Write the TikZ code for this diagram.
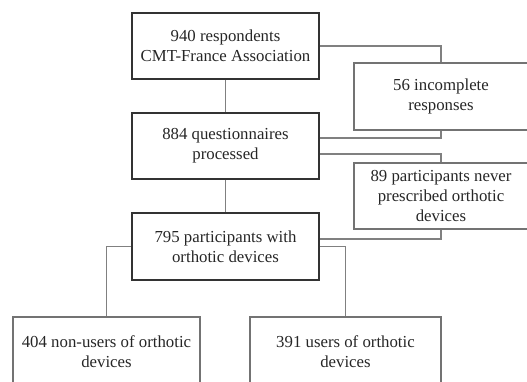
\documentclass[tikz,border=0pt]{standalone}
\usepackage{fontspec}
\setmainfont{Liberation Serif}
\begin{document}
\begin{tikzpicture}[x=1pt,y=-1pt,
  mainbox/.style={draw=black!80, line width=1.8pt, inner sep=0pt, align=center, minimum width=187pt, minimum height=66pt, font=\fontsize{16.8}{20}\selectfont, text=black!85},
  sidebox/.style={draw=black!55, line width=1.5pt, inner sep=0pt, align=center, font=\fontsize{16.8}{20}\selectfont, text=black!85},
  conn/.style={draw=black!50, line width=1.8pt}]
\useasboundingbox (0,0) rectangle (527,381);
\clip (0,0) rectangle (527,381);
\node[mainbox] (A) at (225.5,46) {940 respondents\\CMT-France Association};
\node[mainbox] (C) at (225.5,146) {884 questionnaires\\processed};
\node[mainbox, minimum height=67pt] (E) at (225.5,246.5) {795 participants with\\orthotic devices};
\node[sidebox, minimum width=174pt, minimum height=67pt] (B) at (441,96.5) {56 incomplete\\responses};
\node[sidebox, minimum width=174pt, minimum height=66pt] (D) at (441,196) {89 participants never\\prescribed orthotic\\devices};
\node[sidebox, minimum width=187pt, minimum height=70pt] (F) at (106.5,352) {404 non-users of orthotic\\devices};
\node[sidebox, minimum width=191pt, minimum height=70pt] (G) at (345.5,352) {391 users of orthotic\\devices};
\draw[conn] (A.south) -- (C.north);
\draw[conn] (C.south) -- (E.north);
\draw[conn] (A.east) -| (B.north);
\draw[conn] (B.south) |- ([yshift=8pt]C.east);
\draw[conn] ([yshift=-8pt]C.east) -| (D.north);
\draw[conn] (D.south) |- ([yshift=7.5pt]E.east);
\draw[conn] (E.west) -| (F.north);
\draw[conn] (E.east) -| (G.north);
\end{tikzpicture}
\end{document}
